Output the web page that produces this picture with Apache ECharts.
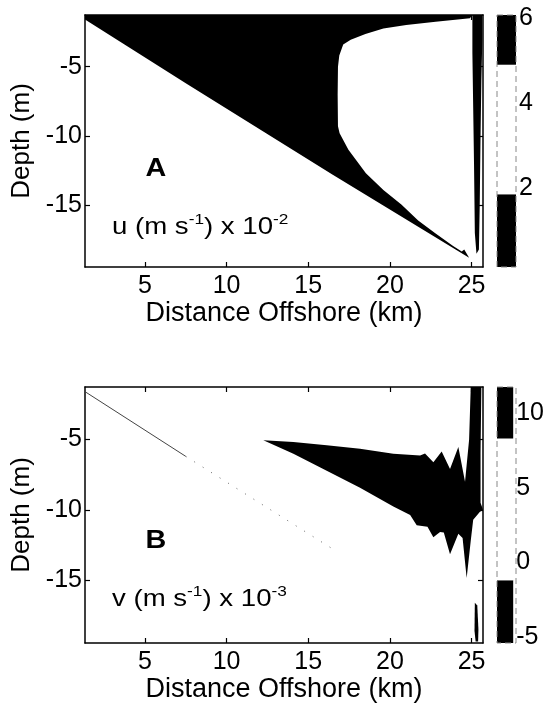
<!DOCTYPE html>
<html>
<head>
<meta charset="utf-8">
<script src="https://cdn.jsdelivr.net/npm/echarts@6/dist/echarts.min.js"></script>
<style>
  html, body { margin: 0; padding: 0; background: #fff; }
  #chart { width: 547px; height: 705px; }
</style>
</head>
<body>
<div id="chart"></div>
<script>
// ---- Axis extents: distance offshore (km) and depth (m) ----
const xRange = [1.33, 25.7];
const depthRange = [-19.46, -1.27];
const xTickValues = [5, 10, 15, 20, 25];
const depthTickValues = [-15, -10, -5];

// ---- Seabed profile ----
const seabedX = [1.33, 7.5, 16.5, 24.85];
const seabedZ = [-1.6, -6.2, -12.8, -18.8];

// ---- Panel A: u (m s^-1) x 10^-2 colour bands ----
const uBarRange = [0.14, 6.07];
const uBarTicks = [2, 4, 6];
const uBandEdges = [0.14, 1.85, 4.9, 6.07];
const uBandColors = ['#000000', '#ffffff', '#000000'];

// Region of strong u (above the 4.9 contour), outlined from surface to seabed
const uHighLevel = 5.5;
const uHighX = [1.33, 25.05, 24.9, 22.8, 21.0, 19.6, 18.5, 17.6, 17.14, 16.9, 16.82, 16.8, 16.82, 16.92,
                17.46, 18.53, 19.6, 20.7, 21.73, 22.8, 23.87, 24.4, 24.55, 24.85, 16.5, 7.5, 1.33];
const uHighZ = [-1.27, -1.27, -1.5, -1.75, -2.0, -2.25, -2.65, -3.05, -3.4, -4.2, -5.0, -7.0, -9.3, -9.8,
                -11.0, -12.7, -13.9, -14.95, -16.1, -17.05, -17.95, -18.35, -18.2, -18.8, -12.8, -6.2, -1.6];

// Narrow band of weak u next to the coast
const uLowLevel = 0.8;
const uLowX = [25.05, 25.66, 25.66, 25.6, 25.55, 25.5, 25.45, 25.3, 25.2, 25.15, 25.1, 25.05];
const uLowZ = [-1.27, -1.27, -3.0, -6.0, -10.0, -15.0, -18.2, -18.5, -17.0, -12.0, -8.0, -4.0];

// ---- Panel B: v (m s^-1) x 10^-3 colour bands ----
const vBarRange = [-5.4, 11.74];
const vBarTicks = [-5, 0, 5, 10];
const vBandEdges = [-5.4, -1.2, 8.3, 11.74];
const vBandColors = ['#000000', '#ffffff', '#000000'];

// Jet of strong v (above the 8.3 contour)
const vHighLevel = 10;
const vHighX = [12.25, 14.09, 16.13, 18.17, 20.21, 21.85, 22.15, 22.66, 23.17, 23.68, 24.19, 24.6, 24.85,
                24.95, 25.6, 25.55, 25.55, 25.7, 25.5, 25.1, 24.95, 24.7, 24.45, 24.19, 23.68, 23.3,
                23.07, 22.66, 22.3, 21.64, 21.24, 20.21, 18.17, 16.13, 14.09, 12.25];
const vHighZ = [-5.05, -5.17, -5.41, -5.65, -6.01, -6.14, -6.0, -6.62, -5.85, -7.1, -5.53, -8.0, -5.0,
                -1.27, -1.27, -6.0, -9.5, -10.0, -10.15, -10.7, -12.2, -14.85, -12.0, -11.7, -13.15, -11.6,
                -11.57, -11.95, -11.2, -11.1, -10.36, -9.76, -8.43, -7.22, -6.01, -5.05];

// Weak (negative) v streak near the bottom by the coast
const vLowLevel = -4;
const vLowX = [25.2, 25.35, 25.42, 25.4, 25.25, 25.18];
const vLowZ = [-16.6, -16.8, -18.5, -19.35, -19.35, -18.6];

// Seabed trace in panel B: solid part, then a sparse dotted part
const vSeabedSolidX = [1.33, 7.5];
const vSeabedSolidZ = [-1.6, -6.2];
const vSeabedDotX = [7.5, 16.8];
const vSeabedDotZ = [-6.2, -13.0];

const FONT = "'Liberation Sans', Arial, Helvetica, sans-serif";

function bandColor(value, edges, colors) {
  for (let i = 0; i < colors.length; i++) {
    if (value >= edges[i] && value <= edges[i + 1]) return colors[i];
  }
  return value < edges[0] ? colors[0] : colors[colors.length - 1];
}

// Filled contour regions for one panel
function regionSeries(axisIdx, regions, edges, colors) {
  return {
    type: 'custom',
    xAxisIndex: axisIdx,
    yAxisIndex: axisIdx,
    clip: true,
    silent: true,
    z: 1,
    data: regions.map((r, i) => [i, r.level]),
    encode: { x: -1, y: -1 },
    renderItem(params, api) {
      const r = regions[params.dataIndex];
      const points = r.x.map((x, k) => api.coord([x, r.z[k]]));
      return {
        type: 'polygon',
        shape: { points },
        style: { fill: bandColor(r.level, edges, colors), stroke: null }
      };
    }
  };
}

// Colour bar drawn as stacked bands
function colorbarSeries(axisIdx, edges, colors) {
  return {
    type: 'custom',
    xAxisIndex: axisIdx,
    yAxisIndex: axisIdx,
    silent: true,
    data: colors.map((c, i) => [i]),
    encode: { x: -1, y: -1 },
    renderItem(params, api) {
      const i = params.dataIndex;
      const p0 = api.coord([0, edges[i + 1]]);
      const p1 = api.coord([1, edges[i]]);
      return {
        type: 'rect',
        shape: { x: p0[0], y: p0[1], width: p1[0] - p0[0], height: p1[1] - p0[1] },
        style: { fill: colors[i] }
      };
    }
  };
}

function plotXAxes(gridIndex) {
  const common = {
    type: 'value', gridIndex, min: xRange[0], max: xRange[1],
    splitLine: { show: false },
    axisLine: { show: true, onZero: false, lineStyle: { color: '#000', width: 1.5 } },
    axisTick: { show: true, inside: true, length: 5, customValues: xTickValues, lineStyle: { color: '#000', width: 1.2 } }
  };
  return [
    Object.assign({}, common, {
      position: 'bottom',
      name: 'Distance Offshore (km)', nameLocation: 'middle', nameGap: 30,
      nameTextStyle: { fontFamily: FONT, fontSize: 27, color: '#000' },
      axisLabel: { show: true, customValues: xTickValues, margin: 7, fontFamily: FONT, fontSize: 25, color: '#000' }
    }),
    Object.assign({}, common, { position: 'top', axisLabel: { show: false } })
  ];
}

function plotYAxes(gridIndex) {
  const common = {
    type: 'value', gridIndex, min: depthRange[0], max: depthRange[1],
    splitLine: { show: false },
    axisLine: { show: true, onZero: false, lineStyle: { color: '#000', width: 1.5 } },
    axisTick: { show: true, inside: true, length: 5, customValues: depthTickValues, lineStyle: { color: '#000', width: 1.2 } }
  };
  return [
    Object.assign({}, common, {
      position: 'left',
      name: 'Depth (m)', nameLocation: 'middle', nameRotate: 90, nameGap: 46,
      nameTextStyle: { fontFamily: FONT, fontSize: 26, color: '#000' },
      axisLabel: { show: true, customValues: depthTickValues, margin: 3, fontFamily: FONT, fontSize: 25, color: '#000' }
    }),
    Object.assign({}, common, { position: 'right', axisLabel: { show: false } })
  ];
}

function barAxes(gridIndex, range, ticks) {
  return {
    x: { type: 'value', gridIndex, min: 0, max: 1, show: false },
    y: {
      type: 'value', gridIndex, min: range[0], max: range[1], position: 'right',
      splitLine: { show: false }, axisLine: { show: false }, axisTick: { show: false },
      axisLabel: { show: true, customValues: ticks, margin: 3, fontFamily: FONT, fontSize: 25, color: '#000' }
    }
  };
}

const barA = barAxes(4, uBarRange, uBarTicks);
const barB = barAxes(5, vBarRange, vBarTicks);

function richLabel(x, y, sym, expo) {
  return {
    type: 'text', x, y, z: 10, scaleX: 1.15,
    style: {
      text: '{a|' + sym + ' (m s}{s|-1}{a|) x 10}{s|' + expo + '}',
      rich: {
        a: { fontFamily: FONT, fontSize: 24, lineHeight: 30, fill: '#000' },
        s: { fontFamily: FONT, fontSize: 15, lineHeight: 14, verticalAlign: 'top', fill: '#000' }
      }
    }
  };
}

const option = {
  backgroundColor: '#fff',
  animation: false,
  grid: [
    { left: 85, top: 15, width: 398, height: 252 },
    { left: 85, top: 15, width: 398, height: 252 },
    { left: 85, top: 387, width: 398, height: 256 },
    { left: 85, top: 387, width: 398, height: 256 },
    { left: 497, top: 15, width: 19, height: 252 },
    { left: 497, top: 387, width: 19, height: 256 }
  ],
  xAxis: [].concat(
    plotXAxes(0)[0], plotXAxes(1)[1], plotXAxes(2)[0], plotXAxes(3)[1], barA.x, barB.x
  ),
  yAxis: [].concat(
    plotYAxes(0)[0], plotYAxes(1)[1], plotYAxes(2)[0], plotYAxes(3)[1], barA.y, barB.y
  ),
  series: [
    regionSeries(0, [
      { level: uHighLevel, x: uHighX, z: uHighZ },
      { level: uLowLevel, x: uLowX, z: uLowZ }
    ], uBandEdges, uBandColors),
    regionSeries(2, [
      { level: vHighLevel, x: vHighX, z: vHighZ },
      { level: vLowLevel, x: vLowX, z: vLowZ }
    ], vBandEdges, vBandColors),
    {
      type: 'line', xAxisIndex: 2, yAxisIndex: 2, silent: true, symbol: 'none', z: 2,
      data: vSeabedSolidX.map((x, i) => [x, vSeabedSolidZ[i]]),
      lineStyle: { color: '#444', width: 1 }
    },
    {
      type: 'line', xAxisIndex: 2, yAxisIndex: 2, silent: true, symbol: 'none', z: 2,
      data: vSeabedDotX.map((x, i) => [x, vSeabedDotZ[i]]),
      lineStyle: { color: '#666', width: 1, type: [1, 9] }
    },
    colorbarSeries(4, uBandEdges, uBandColors),
    colorbarSeries(5, vBandEdges, vBandColors)
  ],
  graphic: [
    // colour bar outlines
    { type: 'rect', shape: { x: 497, y: 15, width: 19, height: 252 }, style: { fill: null, stroke: '#888', lineWidth: 1, lineDash: [6, 4] }, z: 10 },
    { type: 'rect', shape: { x: 497, y: 387, width: 19, height: 256 }, style: { fill: null, stroke: '#888', lineWidth: 1, lineDash: [6, 4] }, z: 10 },
    { type: 'text', x: 156, y: 169, z: 10, scaleX: 1.15, style: { text: 'A', align: 'center', verticalAlign: 'middle', font: "bold 25px " + FONT, fill: '#000' } },
    { type: 'text', x: 156, y: 541, z: 10, scaleX: 1.15, style: { text: 'B', align: 'center', verticalAlign: 'middle', font: "bold 25px " + FONT, fill: '#000' } },
    richLabel(112, 212, 'u', '-2'),
    richLabel(112, 584, 'v', '-3')
  ]
};

const chart = echarts.init(document.getElementById('chart'), null, { renderer: 'canvas' });
chart.setOption(option);
</script>
</body>
</html>
